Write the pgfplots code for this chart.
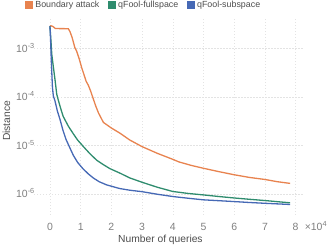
\documentclass[border=0pt]{standalone}
\usepackage{fontspec}
\setmainfont{Liberation Sans}
\usepackage{pgfplots}
\pgfplotsset{compat=1.18}
\definecolor{cOr}{HTML}{E8834F}
\definecolor{cGr}{HTML}{2F8C6E}
\definecolor{cBl}{HTML}{4669B5}
\definecolor{cTick}{HTML}{7F7F7F}
\definecolor{cLab}{HTML}{4D4D4D}
\definecolor{cGrid}{HTML}{E3E3E3}
\begin{document}
\begin{tikzpicture}
\useasboundingbox (0,0) rectangle (327bp,249bp);
\begin{axis}[
  at={(34bp,34bp)}, anchor=south west,
  scale only axis, width=269bp, height=197bp,
  ymode=log,
  xmin=-0.52, xmax=8.24, ymin=3.7e-7, ymax=4.27e-3,
  axis line style={draw=none},
  tick style={draw=none},
  grid=major,
  major grid style={draw=cGrid, line width=0.6bp, dash pattern=on 1.5bp off 1.5bp},
  xtick={0,1,2,3,4,5,6,7,8},
  xticklabels={0,1,2,3,4,5,6,7,8},
  ytick={1e-6,1e-5,1e-4,1e-3},
  yticklabels={10\textsuperscript{-6},10\textsuperscript{-5},10\textsuperscript{-4},10\textsuperscript{-3}},
  xticklabel style={anchor=center, yshift=-11.5bp, text=cTick, font=\fontsize{10.5}{12}\selectfont},
  yticklabel style={anchor=base east, inner sep=0pt, xshift=1bp, yshift=-3.8bp, text=cTick, font=\fontsize{10.5}{12}\selectfont},
  xlabel={Number of queries},
  ylabel={Distance},
  xlabel style={at={(axis description cs:0.47,-0.127)}, anchor=center, text=cLab, font=\fontsize{10.3}{12}\selectfont},
  ylabel style={at={(axis description cs:-0.102,0.477)}, anchor=center, text=cLab, font=\fontsize{10.3}{12}\selectfont},
  legend columns=3,
  legend cell align=left,
  legend style={at={(axis description cs:-0.034,1.066)}, anchor=west, draw=none, fill=none, inner sep=0pt,
    font=\fontsize{8.9}{10}\selectfont, text=cLab,
    /tikz/every even column/.append style={column sep=6.5bp}},
  legend image code/.code={\fill[#1] (0bp,-3.5bp) rectangle (7bp,3.5bp);},
  clip=false,
]
\addplot[cOr, line width=1.3bp] coordinates {
(0,2.9e-3) (0.03,2.95e-3) (0.1,2.85e-3) (0.17,2.6e-3) (0.3,2.58e-3) (0.45,2.58e-3) (0.6,2.55e-3)
(0.65,2.25e-3) (0.72,1.7e-3) (0.81,1.05e-3) (0.87,8.8e-4) (0.95,6.2e-4) (1.03,4.1e-4) (1.1,3.0e-4)
(1.18,2.1e-4) (1.25,1.75e-4) (1.33,1.3e-4) (1.41,9.2e-5) (1.5,6.3e-5) (1.58,4.7e-5) (1.74,3.0e-5)
(2.0,2.3e-5) (2.28,1.8e-5) (2.6,1.3e-5) (3.0,9.5e-6) (3.5,6.9e-6) (4.0,5.2e-6) (4.2,4.6e-6)
(4.6,3.9e-6) (5.0,3.4e-6) (5.5,2.9e-6) (6.0,2.5e-6) (6.5,2.2e-6) (7.0,2.0e-6) (7.4,1.8e-6) (7.82,1.66e-6)
};
\addlegendentry{Boundary attack}
\addplot[cGr, line width=1.3bp] coordinates {
(0,2.9e-3) (0.03,1.5e-3) (0.06,7.5e-4) (0.11,4.2e-4) (0.16,2.4e-4) (0.22,1.15e-4) (0.27,8.7e-5)
(0.35,5.8e-5) (0.43,4.0e-5) (0.6,2.5e-5) (0.76,1.75e-5) (0.9,1.3e-5) (1.09,9.5e-6) (1.3,6.8e-6)
(1.52,5.0e-6) (1.75,4.0e-6) (1.95,3.35e-6) (2.28,2.7e-6) (2.6,2.15e-6) (3.0,1.75e-6) (3.5,1.38e-6)
(4.0,1.13e-6) (4.5,1.03e-6) (5.0,9.6e-7) (5.5,8.9e-7) (6.0,8.3e-7) (6.5,7.8e-7) (7.0,7.35e-7) (7.82,6.6e-7)
};
\addlegendentry{qFool-fullspace}
\addplot[cBl, line width=1.3bp] coordinates {
(0,2.9e-3) (0.02,1.5e-3) (0.05,4.5e-4) (0.08,1.6e-4) (0.11,1.05e-4) (0.16,8.5e-5) (0.24,5.2e-5)
(0.33,3.4e-5) (0.42,2.1e-5) (0.52,1.35e-5) (0.63,9.5e-6) (0.76,6.3e-6) (0.9,4.5e-6) (1.07,3.35e-6)
(1.25,2.6e-6) (1.41,2.15e-6) (1.6,1.8e-6) (1.84,1.55e-6) (2.27,1.3e-6) (2.6,1.2e-6) (3.0,1.12e-6)
(3.5,9.9e-7) (4.0,8.9e-7) (4.5,8.2e-7) (5.0,7.6e-7) (5.5,7.3e-7) (6.0,7.0e-7) (6.5,6.7e-7) (7.0,6.45e-7) (7.82,6.1e-7)
};
\addlegendentry{qFool-subspace}
\node[anchor=west, inner sep=0pt, text=cTick, font=\fontsize{10.5}{12}\selectfont] at (axis description cs:1.006,-0.057) {×10\textsuperscript{4}};
\end{axis}
\end{tikzpicture}
\end{document}
